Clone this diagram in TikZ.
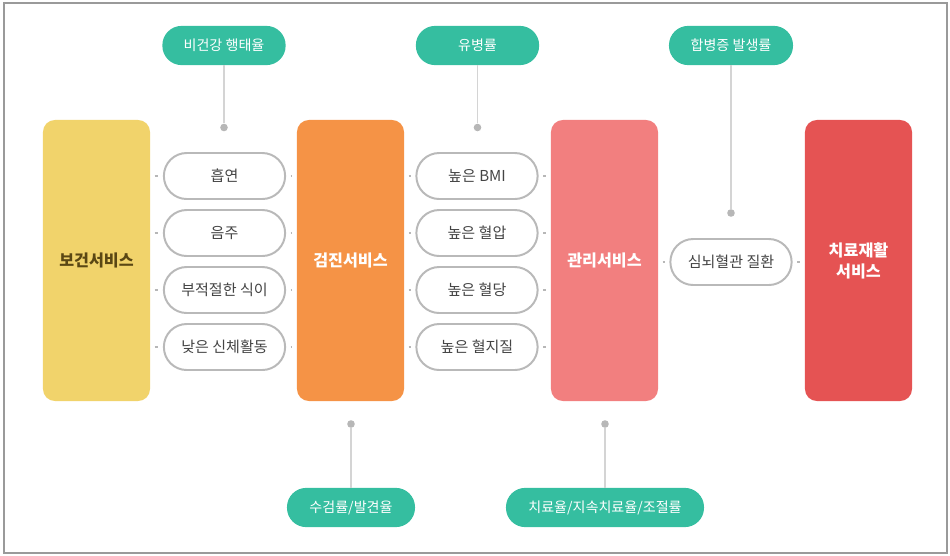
\documentclass[tikz,border=0pt]{standalone}
\usepackage{fontspec}
\setmainfont{Noto Sans CJK KR}
\definecolor{svcyellow}{HTML}{F1D36B}
\definecolor{svcorange}{HTML}{F59346}
\definecolor{svcpink}{HTML}{F27F7F}
\definecolor{svcred}{HTML}{E55353}
\definecolor{indteal}{HTML}{35BEA0}
\definecolor{pillgray}{HTML}{B9B9B9}
\definecolor{linegray}{HTML}{D4D4D4}
\definecolor{dotgray}{HTML}{B7B7B7}
\definecolor{textgray}{HTML}{444444}
\definecolor{yellowtext}{HTML}{5A4714}
\definecolor{framegray}{HTML}{9A9A9A}

\begin{document}
\begin{tikzpicture}[x=0.025cm, y=-0.025cm,
  service/.style={rounded corners=0.3cm, minimum width=2.675cm, minimum height=7.025cm,
    align=center, text=white, font=\fontsize{11.5}{15}\selectfont\bfseries},
  factor/.style={draw=pillgray, line width=1.4pt, fill=white, rounded corners=0.57cm,
    minimum width=3.03cm, minimum height=1.15cm, text=textgray, font=\fontsize{10.7}{12}\selectfont},
  indicator/.style={fill=indteal, rounded corners=0.48cm, minimum width=3.08cm,
    minimum height=0.98cm, text=white, font=\fontsize{10}{12}\selectfont},
  pin/.style={circle, fill=dotgray, inner sep=0pt, minimum size=0.19cm},
  stem/.style={draw=linegray, line width=1.4pt},
  tick/.style={draw=dotgray, line width=1pt, shorten <=0.11cm, shorten >=0.11cm}]

\useasboundingbox (0,0) rectangle (950,555);
\draw[framegray, line width=1pt] (4,3) rectangle (947,553);

% services
\node[service, fill=svcyellow, text=yellowtext] (bogeon) at (96.5,260.5) {보건서비스};
\node[service, fill=svcorange] (geomjin) at (350.5,260.5) {검진서비스};
\node[service, fill=svcpink] (gwanri) at (604.5,260.5) {관리서비스};
\node[service, fill=svcred] (chiryo) at (858.5,260.5) {치료재활\\서비스};

% risk factors
\node[factor] (smoke) at (224.5,176) {흡연};
\node[factor] (drink) at (224.5,233) {음주};
\node[factor] (diet) at (224.5,290) {부적절한 식이};
\node[factor] (inactive) at (224.5,347) {낮은 신체활동};
\node[factor] (bmi) at (477,176) {높은 BMI};
\node[factor] (bp) at (477,233) {높은 혈압};
\node[factor] (sugar) at (477,290) {높은 혈당};
\node[factor] (lipid) at (477,347) {높은 혈지질};
\node[factor] (cvd) at (731,262) {심뇌혈관 질환};

% indicators
\node[indicator] (unhealthy) at (224,45.5) {비건강 행태율};
\node[indicator] (prevalence) at (477.5,45.5) {유병률};
\node[indicator, minimum width=3.1cm] (complication) at (731,45.5) {합병증 발생률};
\node[indicator, minimum width=3.2cm] (screening) at (351,507.5) {수검률/발견율};
\node[indicator, minimum width=4.95cm] (treatment) at (605,507.5) {치료율/지속치료율/조절률};

\node[pin] (unhealthy pin) at (224,127.5) {};
\node[pin] (prevalence pin) at (477.5,127.5) {};
\node[pin] (complication pin) at (731,213) {};
\node[pin] (screening pin) at (351,424) {};
\node[pin] (treatment pin) at (605,424) {};

\draw[stem] (unhealthy) -- (unhealthy pin);
\draw[stem] (prevalence) -- (prevalence pin);
\draw[stem] (complication) -- (complication pin);
\draw[stem] (screening) -- (screening pin);
\draw[stem] (treatment) -- (treatment pin);

% short ticks between columns
\foreach \f in {smoke,drink,diet,inactive} {
  \draw[tick] (bogeon.east |- \f) -- (\f.west);
  \draw[tick] (\f.east) -- (geomjin.west |- \f);
}
\foreach \f in {bmi,bp,sugar,lipid} {
  \draw[tick] (geomjin.east |- \f) -- (\f.west);
  \draw[tick] (\f.east) -- (gwanri.west |- \f);
}
\draw[tick] (gwanri.east |- cvd) -- (cvd.west);
\draw[tick] (cvd.east) -- (chiryo.west |- cvd);
\end{tikzpicture}
\end{document}
